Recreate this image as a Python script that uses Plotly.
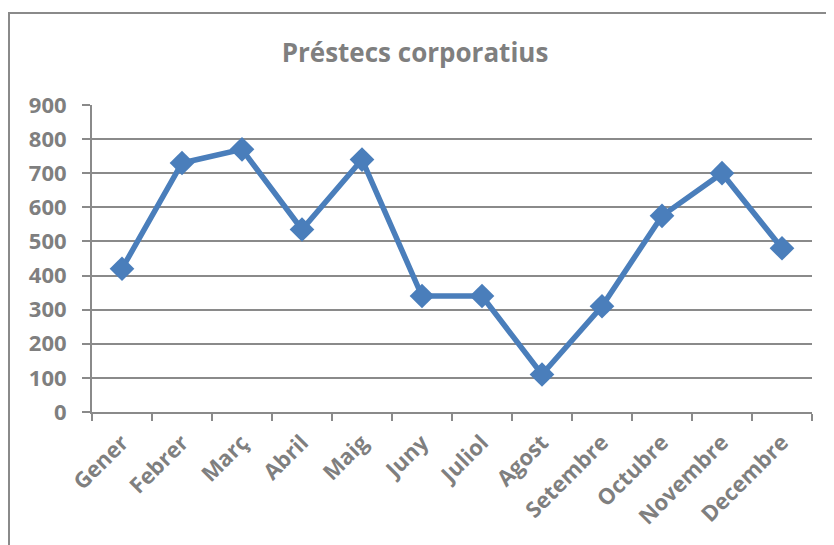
import plotly.graph_objects as go

months = ["Gener", "Febrer", "Març", "Abril", "Maig", "Juny", "Juliol",
          "Agost", "Setembre", "Octubre", "Novembre", "Decembre"]
values = [420, 730, 770, 535, 740, 340, 340, 110, 310, 575, 700, 480]
y_ticks = [0, 100, 200, 300, 400, 500, 600, 700, 800, 900]

title_text = "Préstecs corporatius"
grey = "#7f7f7f"
line_grey = "#8a8a8a"
blue = "#4a7ebb"
font_family = "Open Sans"

W, H = 826, 537          # page body has an 8px default margin
L, R, T, B = 84, 22, 97, 133
PW, PH = W - L - R, H - T - B

fig = go.Figure()
fig.add_trace(go.Scatter(
    x=months, y=values, mode="lines+markers",
    line=dict(color=blue, width=5.5),
    marker=dict(symbol="diamond", size=19, color=blue),
    showlegend=False, hoverinfo="x+y",
))

fig.update_layout(
    width=W, height=H,
    margin=dict(l=L, r=R, t=T, b=B),
    paper_bgcolor="white", plot_bgcolor="white",
    title=dict(text=title_text, x=(415 - 8) / W, xanchor="center",
               y=1 - 45 / H, yanchor="middle",
               font=dict(family=font_family, size=26, color=grey, weight="bold")),
    xaxis=dict(
        type="category", range=[-0.5, 11.5],
        showline=True, linecolor=line_grey, linewidth=2,
        ticks="outside", tickson="boundaries", ticklen=7, tickwidth=2,
        tickcolor=line_grey, showgrid=False, tickangle=-45,
        ticklabelstandoff=7,
        tickfont=dict(family=font_family, size=22, color=grey, weight="bold"),
    ),
    yaxis=dict(
        range=[0, 900], tickvals=y_ticks,
        showline=True, linecolor=line_grey, linewidth=2,
        ticks="outside", ticklen=8, tickwidth=2, tickcolor=line_grey,
        showgrid=True, gridcolor=line_grey, gridwidth=2, zeroline=False,
        ticklabelstandoff=11,
        tickfont=dict(family=font_family, size=22, color=grey, weight="bold"),
    ),
    shapes=[dict(type="rect", xref="paper", yref="paper",
                 x0=(1 - L) / PW, x1=(W + 10 - L) / PW,
                 y0=-0.6, y1=(T + PH - 5) / PH,
                 line=dict(color=line_grey, width=2), layer="below")],
)

fig.write_html("out.html")
